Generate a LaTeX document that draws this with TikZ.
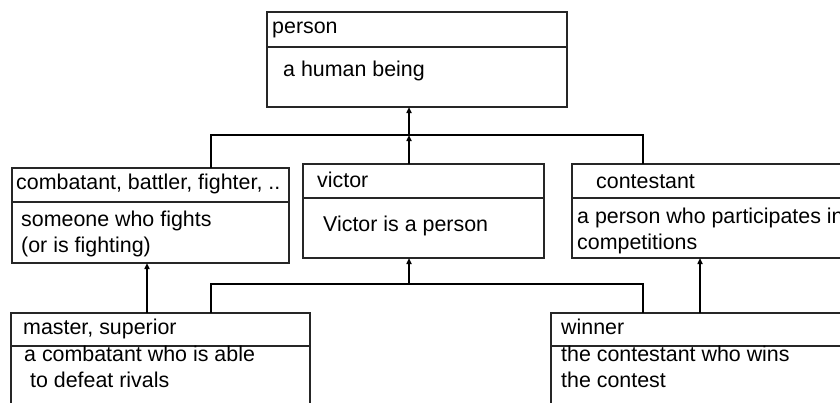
\documentclass[tikz,border=0pt]{standalone}
\usepackage{fontspec}
\setmainfont{Liberation Sans}
\usetikzlibrary{arrows.meta}
\begin{document}
\begin{tikzpicture}[x=1pt,y=-1pt,
  part/.style={draw=black!85,line width=1.3pt,anchor=north west,inner sep=0pt,outer sep=0pt},
  label/.style={anchor=base west,inner sep=0pt,align=left,
    font=\fontsize{21.4}{25.5}\selectfont},
  link/.style={line width=2pt,line join=miter},
  uparrow/.style={link,-{Triangle[length=6pt,width=5pt]}}]
\useasboundingbox (0,0) rectangle (840,402);
\clip (0,0) rectangle (840,402);

% class boxes: header part and body part; two-line labels sit on their last baseline
\node[part,minimum width=300,minimum height=35] (personH) at (267,12) {};
\node[part,minimum width=300,minimum height=60] (personB) at (267,47) {};
\node[label] (personT) at (272,33) {person};
\node[label] (personD) at (283,76) {a human being};

\node[part,minimum width=277,minimum height=34] (combH) at (12,168) {};
\node[part,minimum width=277,minimum height=61] (combB) at (12,202) {};
\node[label] (combT) at (16,189) {combatant, battler, fighter, ..};
\node[label] (combD) at (21,252) {someone who fights\\(or is fighting)};

\node[part,minimum width=241,minimum height=34] (victH) at (303,164) {};
\node[part,minimum width=241,minimum height=60] (victB) at (303,198) {};
\node[label] (victT) at (317,187) {victor};
\node[label] (victD) at (323,231) {Victor is a person};

\node[part,minimum width=300,minimum height=34] (contH) at (572,164) {};
\node[part,minimum width=300,minimum height=60] (contB) at (572,198) {};
\node[label] (contT) at (596,188) {contestant};
\node[label] (contD) at (577,249) {a person who participates in\\competitions};

\node[part,minimum width=299,minimum height=33] (mastH) at (11,313) {};
\node[part,minimum width=299,minimum height=80] (mastB) at (11,346) {};
\node[label] (mastT) at (23,334) {master, superior};
\node[label] (mastD) at (24,387) {a combatant who is able\\ \ to defeat rivals};

\node[part,minimum width=320,minimum height=33] (winH) at (551,313) {};
\node[part,minimum width=320,minimum height=80] (winB) at (551,346) {};
\node[label] (winT) at (561,334) {winner};
\node[label] (winD) at (561,387) {the contestant who wins\\the contest};

% junction points of the connector buses
\coordinate (busAL) at (211,135);
\coordinate (busA)  at (409,135);
\coordinate (busAR) at (643,135);
\coordinate (busBL) at (211,284);
\coordinate (busB)  at (409,284);
\coordinate (busBR) at (643,284);
\coordinate (colL)  at (147,290);
\coordinate (colR)  at (700,290);

% upper hierarchy: combatant, victor, contestant -> person
\draw[link] (busAL |- combH.north) -- (busAL) -- (busAR) -- (busAR |- contH.north);
\draw[uparrow] (busA |- victH.north) -- (busA);
\draw[uparrow] (busA) -- (busA |- personB.south);

% lower hierarchy
\draw[link] (busBL |- mastH.north) -- (busBL) -- (busBR) -- (busBR |- winH.north);
\draw[uparrow] (busB) -- (busB |- victB.south);
\draw[uparrow] (colL |- mastH.north) -- (colL |- combB.south);
\draw[uparrow] (colR |- winH.north) -- (colR |- contB.south);
\end{tikzpicture}
\end{document}
